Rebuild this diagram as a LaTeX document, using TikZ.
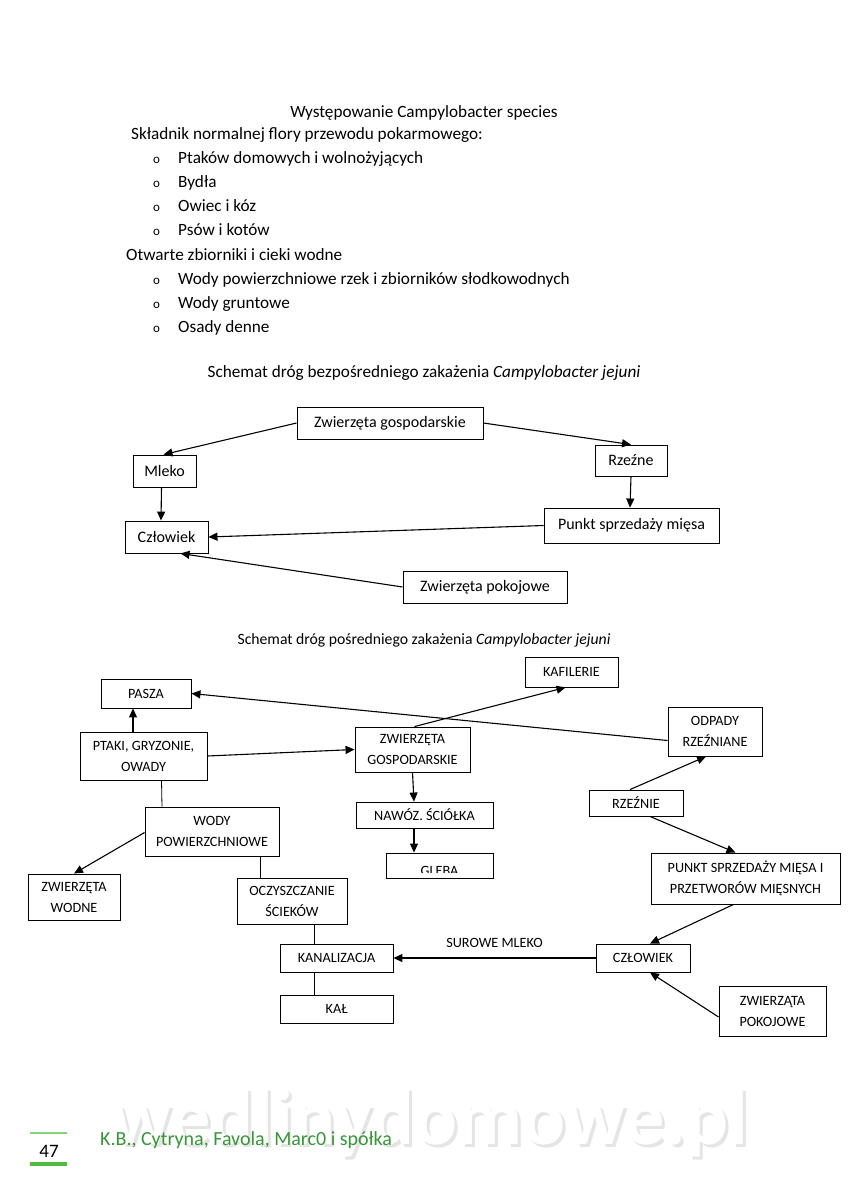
\documentclass[tikz,border=0pt]{standalone}
\usepackage{fontspec}
\setmainfont{Carlito}
\usetikzlibrary{arrows.meta}
\definecolor{footgreen}{RGB}{55,150,55}
\definecolor{linegreen}{RGB}{80,190,60}
\tikzset{
  box/.style={draw, line width=0.9pt, inner sep=0pt, align=center},
  bA/.style={box, font=\fontsize{16}{18}\selectfont},
  bB/.style={box, font=\fontsize{14.2}{21}\selectfont},
  arr/.style={-{Triangle[length=9pt,width=8pt]}, line width=1.1pt},
  ln/.style={line width=0.8pt},
  txt/.style={anchor=base west, inner sep=0pt, font=\fontsize{17.2}{19}\selectfont},
  bul/.style={anchor=base west, inner sep=0pt, font=\fontsize{13}{14}\selectfont},
}
\begin{document}
\begin{tikzpicture}[x=1pt,y=-1pt]
\useasboundingbox (0,0) rectangle (848,1200);
\fill[white] (0,0) rectangle (848,1200);
% ---------- top text ----------
\node[anchor=base, inner sep=0pt, font=\fontsize{17.2}{19}\selectfont] (t0) at (424,117) {Występowanie Campylobacter species};
\node[txt] (t1) at (131,139) {Składnik normalnej flory przewodu pokarmowego:};
\node[bul] (b2) at (153,163) {o}; \node[txt] (t2) at (178,163) {Ptaków domowych i wolnożyjących};
\node[bul] (b3) at (153,187) {o}; \node[txt] (t3) at (178,187) {Bydła};
\node[bul] (b4) at (153,211) {o}; \node[txt] (t4) at (178,211) {Owiec i kóz};
\node[bul] (b5) at (153,235) {o}; \node[txt] (t5) at (178,235) {Psów i kotów};
\node[txt] (t6) at (126,260) {Otwarte zbiorniki i cieki wodne};
\node[bul] (b7) at (153,284) {o}; \node[txt] (t7) at (178,284) {Wody powierzchniowe rzek i zbiorników słodkowodnych};
\node[bul] (b8) at (153,308) {o}; \node[txt] (t8) at (178,308) {Wody gruntowe};
\node[bul] (b9) at (153,332) {o}; \node[txt] (t9) at (178,332) {Osady denne};
% ---------- diagram 1 ----------
\node[anchor=base, inner sep=0pt, font=\fontsize{17.2}{19}\selectfont] (h1) at (424,377) {Schemat dróg bezpośredniego zakażenia \textit{Campylobacter jejuni}};
\node[bA, minimum width=186pt, minimum height=32pt] (zg) at (390,423) {Zwierzęta gospodarskie};
\node[bA, minimum width=63pt, minimum height=32pt] (ml) at (164.5,471) {Mleko};
\node[bA, minimum width=72pt, minimum height=31pt] (rz) at (631,460.5) {Rzeźne};
\node[bA, minimum width=83pt, minimum height=32pt] (cz) at (166.5,537) {Człowiek};
\node[bA, minimum width=175pt, minimum height=35pt] (ps) at (631.5,525.5) {Punkt sprzedaży mięsa};
\node[bA, minimum width=164pt, minimum height=32pt] (zp) at (485,587) {Zwierzęta pokojowe};
\draw[arr] (zg.west) -- ([xshift=-1pt]ml.north);
\draw[arr] (zg.east) -- (rz.north);
\draw[arr] ([xshift=-3pt]ml.south) -- ([xshift=-5.5pt]cz.north);
\draw[arr] (rz.south) -- ([xshift=-1.5pt]ps.north);
\draw[arr] (ps.west) -- (cz.east);
\draw[arr] (zp.west) -- ([xshift=14pt]cz.south);
% ---------- diagram 2 ----------
\node[anchor=base, inner sep=0pt, font=\fontsize{15.7}{18}\selectfont] (h2) at (424,644) {Schemat dróg pośredniego zakażenia \textit{Campylobacter jejuni}};
\node[bB, minimum width=93pt, minimum height=30pt] (kaf) at (571.5,672) {KAFILERIE};
\node[bB, minimum width=90pt, minimum height=29pt] (pas) at (146,693.5) {PASZA};
\node[bB, minimum width=94pt, minimum height=49pt] (odp) at (715,731.5) {ODPADY\\RZEŹNIANE};
\node[bB, minimum width=127pt, minimum height=48pt] (ptk) at (143.5,756) {PTAKI, GRYZONIE,\\OWADY};
\node[bB, minimum width=115pt, minimum height=45pt] (zg2) at (412.5,749.5) {ZWIERZĘTA\\GOSPODARSKIE};
\node[bB, minimum width=94pt, minimum height=26pt] (rzn) at (636,803) {RZEŹNIE};
\node[bB, minimum width=137pt, minimum height=26pt] (naw) at (424.5,815) {NAWÓZ. ŚCIÓŁKA};
\node[bB, minimum width=134pt, minimum height=49pt] (wod) at (212,831.5) {WODY\\POWIERZCHNIOWE};
\node[box, minimum width=107pt, minimum height=25pt] (gle) at (439.5,865.5) {};
\node[anchor=base, inner sep=0pt, font=\fontsize{14.2}{16}\selectfont] (glet) at (439.5,875) {GLEBA};
\fill[white] (386.6,873.2) rectangle (492.4,884);
\draw[line width=0.9pt] (gle.south west) -- (gle.south east);
\node[bB, minimum width=189pt, minimum height=51pt] (pkt) at (745.5,878.5) {PUNKT SPRZEDAŻY MIĘSA I\\PRZETWORÓW MIĘSNYCH};
\node[bB, minimum width=92pt, minimum height=46pt] (zw) at (74,897) {ZWIERZĘTA\\WODNE};
\node[bB, minimum width=110pt, minimum height=46pt] (ocz) at (292,901) {OCZYSZCZANIE\\ŚCIEKÓW};
\node[bB, minimum width=113pt, minimum height=28pt] (kan) at (336.5,958) {KANALIZACJA};
\node[bB, minimum width=94pt, minimum height=28pt] (czl) at (643,958) {CZŁOWIEK};
\node[bB, minimum width=107pt, minimum height=50pt] (zpk) at (772.5,1011) {ZWIERZĄTA\\POKOJOWE};
\node[bB, minimum width=113pt, minimum height=28pt] (kal) at (336.5,1009) {KAŁ};
\draw[arr] ([xshift=-10.5pt]ptk.north) -- ([xshift=-13pt]pas.south);
\draw[arr] ([yshift=-9pt]odp.west) -- (pas.east);
\draw[arr] (ptk.east) -- (zg2.west);
\draw[arr] ([xshift=2pt]zg2.north) -- ([xshift=-6pt]kaf.south);
\draw[arr] (zg2.south) -- ([xshift=-10.5pt]naw.north);
\draw[arr] ([xshift=-10.5pt]naw.south) -- ([xshift=-25.5pt]gle.north);
\draw[ln] ([xshift=18pt]ptk.south) -- ([xshift=-50pt]wod.north);
\draw[arr] ([yshift=-1pt]wod.west) -- (zw.north);
\draw[ln] ([xshift=48pt]wod.south) -- ([xshift=-32pt]ocz.north);
\draw[ln] ([xshift=22pt]ocz.south) -- ([xshift=-22.5pt]kan.north);
\draw[ln] ([xshift=-22.5pt]kan.south) -- ([xshift=-22.5pt]kal.north);
\draw[arr] (czl.west) -- node[above=7pt, font=\fontsize{14.2}{16}\selectfont] {SUROWE MLEKO} (kan.east);
\draw[arr] ([xshift=-6pt]rzn.north) -- ([xshift=-9pt]odp.south);
\draw[arr] ([xshift=14pt]rzn.south) -- ([xshift=-10pt]pkt.north);
\draw[arr] ([xshift=-12pt]pkt.south) -- ([xshift=7pt]czl.north);
\draw[arr] ([yshift=-6pt]zpk.west) -- ([xshift=7pt]czl.south);
% ---------- footer ----------
\node[anchor=base west, inner sep=0pt, font=\bfseries\fontsize{80}{82}\selectfont, text=black!10] (wm0) at (114,1147) {wedlinydomowe.pl};
\node[anchor=base west, inner sep=0pt, font=\bfseries\fontsize{80}{82}\selectfont, text=white] (wm) at (111,1144) {wedlinydomowe.pl};
\draw[linegreen!70, line width=2pt] (30,1133) -- (67,1133);
\draw[linegreen, line width=4pt] (30,1164) -- (67,1164);
\node[anchor=base, inner sep=0pt, font=\fontsize{19}{20}\selectfont] (pg) at (49,1157) {47};
\node[anchor=base west, inner sep=0pt, font=\fontsize{20}{22}\selectfont, text=footgreen] (au) at (100,1145) {K.B., Cytryna, Favola, Marc0 i spółka};
\end{tikzpicture}
\end{document}
